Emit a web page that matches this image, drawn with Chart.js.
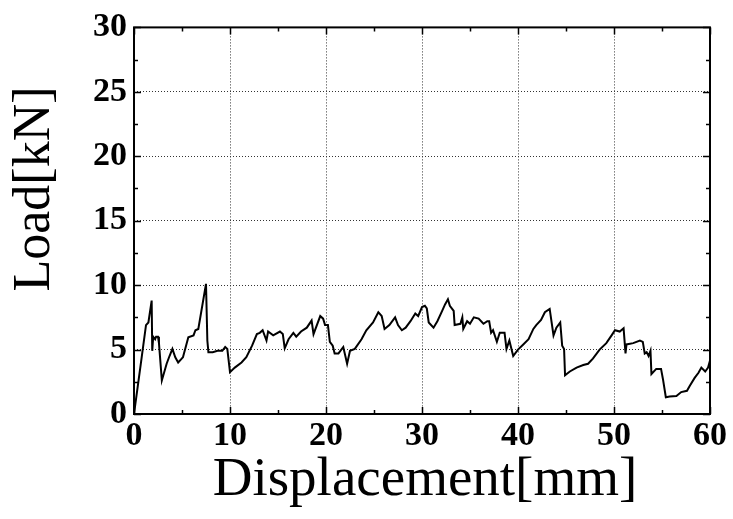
<!DOCTYPE html>
<html>
<head>
<meta charset="utf-8">
<script src="https://cdn.jsdelivr.net/npm/chart.js@4.4.1/dist/chart.umd.min.js"></script>
<style>
  html, body { margin: 0; padding: 0; background: #fff; }
  #wrap { width: 733px; height: 519px; }
</style>
</head>
<body>
<div id="wrap"><canvas id="c"></canvas></div>
<script>
// displacement [mm] and load [kN]
const displacement = [
  0.0, 0.8, 1.25, 1.5, 1.84, 1.9, 2.0, 2.2, 2.3, 2.5, 2.6, 2.9, 3.4, 3.7, 4.0, 4.3, 4.6, 4.97, 5.1,
  5.66, 6.2, 6.4, 6.7, 7.5, 7.64, 7.75, 8.2, 8.7, 9.2, 9.5, 9.72, 10.0, 10.5, 11.2, 11.7, 12.3,
  12.8, 13.1, 13.4, 13.8, 13.97, 14.5, 15.2, 15.5, 15.7, 16.1, 16.6, 16.9, 17.4, 18.0, 18.5, 18.7,
  19.4, 19.7, 19.9, 20.2, 20.4, 20.7, 20.9, 21.3, 21.8, 22.2, 22.5, 23.0, 23.7, 24.2, 24.9, 25.45,
  25.8, 26.1, 26.6, 27.2, 27.5, 27.9, 28.3, 28.8, 29.3, 29.6, 30.0, 30.3, 30.5, 30.7, 31.2, 31.6,
  32.1, 32.4, 32.7, 32.9, 33.3, 33.4, 34.0, 34.2, 34.3, 34.7, 35.0, 35.4, 35.9, 36.4, 36.8, 37.0,
  37.2, 37.4, 37.8, 38.1, 38.6, 38.8, 39.1, 39.5, 40.0, 40.55, 41.1, 41.6, 41.9, 42.4, 42.8, 43.3,
  43.7, 44.0, 44.4, 44.6, 44.8, 44.9, 45.4, 46.1, 46.8, 47.3, 47.8, 48.5, 49.2, 49.75, 50.1, 50.6,
  51.0, 51.2, 51.3, 52.0, 52.7, 53.0, 53.2, 53.4, 53.6, 53.8, 53.9, 54.4, 54.9, 55.1, 55.4, 55.8,
  56.5, 57.0, 57.6, 57.9, 58.4, 58.8, 59.1, 59.5, 59.8, 60.0
];
const load = [
  0.0, 4.4, 6.9, 7.1, 8.8, 4.9, 6.0, 5.8, 6.0, 6.0, 5.5, 2.6, 3.9, 4.5, 5.05, 4.4, 4.0, 4.3, 4.4,
  5.95, 6.1, 6.5, 6.6, 10.1, 5.7, 4.8, 4.8, 4.9, 4.9, 5.2, 5.05, 3.25, 3.6, 4.0, 4.4, 5.3,
  6.2, 6.3, 6.5, 5.7, 6.4, 6.1, 6.4, 6.2, 5.1, 5.8, 6.3, 6.0, 6.4, 6.7, 7.25, 6.2,
  7.6, 7.4, 6.9, 6.9, 5.6, 5.3, 4.7, 4.7, 5.2, 3.9, 4.9, 5.05, 5.8, 6.5, 7.1, 7.9,
  7.6, 6.6, 6.9, 7.5, 6.9, 6.5, 6.7, 7.2, 7.8, 7.6, 8.3, 8.4, 8.2, 7.1, 6.7, 7.2,
  8.0, 8.5, 8.9, 8.4, 8.0, 6.9, 7.0, 7.5, 6.6, 7.2, 7.0, 7.5, 7.4, 7.0, 7.2, 7.2,
  6.3, 6.5, 5.6, 6.3, 6.3, 5.05, 5.7, 4.5, 5.0, 5.4, 5.8, 6.6, 6.9, 7.3, 7.9, 8.15,
  6.1, 6.7, 7.1, 5.3, 5.05, 3.0, 3.3, 3.6, 3.8, 3.9, 4.3, 5.0, 5.5, 6.1, 6.5, 6.4,
  6.65, 4.7, 5.4, 5.5, 5.7, 5.6, 4.7, 4.8, 4.5, 4.9, 3.1, 3.5, 3.5, 2.7, 1.3, 1.35,
  1.4, 1.7, 1.8, 2.2, 2.8, 3.2, 3.6, 3.3, 3.6, 4.15
];
const xTicks = [0, 10, 20, 30, 40, 50, 60];
const yTicks = [0, 5, 10, 15, 20, 25, 30];
const xTitle = 'Displacement[mm]';
const yTitle = 'Load[kN]';

const points = displacement.map((d, i) => ({x: d, y: load[i]}));
const serif = '"Liberation Serif", "Times New Roman", serif';

// frame, inward ticks and axis titles
const framePlugin = {
    id: 'frame',
    afterDraw(chart) {
        const {ctx, chartArea: a, scales: {x, y}} = chart;
        ctx.save();
        ctx.strokeStyle = '#000';
        ctx.lineWidth = 1.5;
        for (let v = 0; v <= 60; v += 5) {
            const px = Math.round(x.getPixelForValue(v)) + 0.5;
            const len = v % 10 === 0 ? 7 : 4;
            ctx.beginPath();
            ctx.moveTo(px, a.bottom); ctx.lineTo(px, a.bottom - len);
            ctx.moveTo(px, a.top); ctx.lineTo(px, a.top + len);
            ctx.stroke();
        }
        for (let v = 0; v <= 30; v += 2.5) {
            const py = Math.round(y.getPixelForValue(v)) + 0.5;
            const len = v % 5 === 0 ? 7 : 4;
            ctx.beginPath();
            ctx.moveTo(a.left, py); ctx.lineTo(a.left + len, py);
            ctx.moveTo(a.right, py); ctx.lineTo(a.right - len, py);
            ctx.stroke();
        }
        ctx.lineWidth = 2;
        ctx.strokeRect(a.left, a.top, a.right - a.left, a.bottom - a.top);

        ctx.fillStyle = '#000';
        ctx.font = '55px ' + serif;
        ctx.textAlign = 'center';
        ctx.textBaseline = 'alphabetic';
        ctx.fillText(xTitle, 425, 495);

        ctx.translate(49, 189);
        ctx.rotate(-Math.PI / 2);
        ctx.font = '52px ' + serif;
        ctx.fillText(yTitle, 0, 0);
        ctx.restore();
    }
};

new Chart(document.getElementById('c'), {
    type: 'line',
    data: {
        datasets: [{
            data: points,
            borderColor: '#000',
            borderWidth: 2,
            pointRadius: 0,
            tension: 0,
            fill: false,
        }],
    },
    options: {
        responsive: true,
        maintainAspectRatio: false,
        animation: false,
        parsing: false,
        layout: {padding: {top: 26, right: 23, left: 0, bottom: 0}},
        plugins: {legend: {display: false}, tooltip: {enabled: false}},
        scales: {
            x: {
                type: 'linear',
                min: 0,
                max: 60,
                afterBuildTicks: s => { s.ticks = xTicks.map(v => ({value: v})); },
                afterFit: s => { s.height = 105; },
                ticks: {
                    color: '#000',
                    padding: 2,
                    font: {family: serif, size: 34, weight: 'bold'},
                },
                grid: {color: '#333', lineWidth: 1, drawTicks: false},
                border: {display: false, dash: [1, 2]},
            },
            y: {
                min: 0,
                max: 30,
                afterBuildTicks: s => { s.ticks = yTicks.map(v => ({value: v})); },
                afterFit: s => { s.width = 134; },
                ticks: {
                    color: '#000',
                    padding: 7,
                    font: {family: serif, size: 34, weight: 'bold'},
                },
                grid: {color: '#333', lineWidth: 1, drawTicks: false},
                border: {display: false, dash: [1, 2]},
            },
        },
    },
    plugins: [framePlugin],
});
</script>
</body>
</html>
